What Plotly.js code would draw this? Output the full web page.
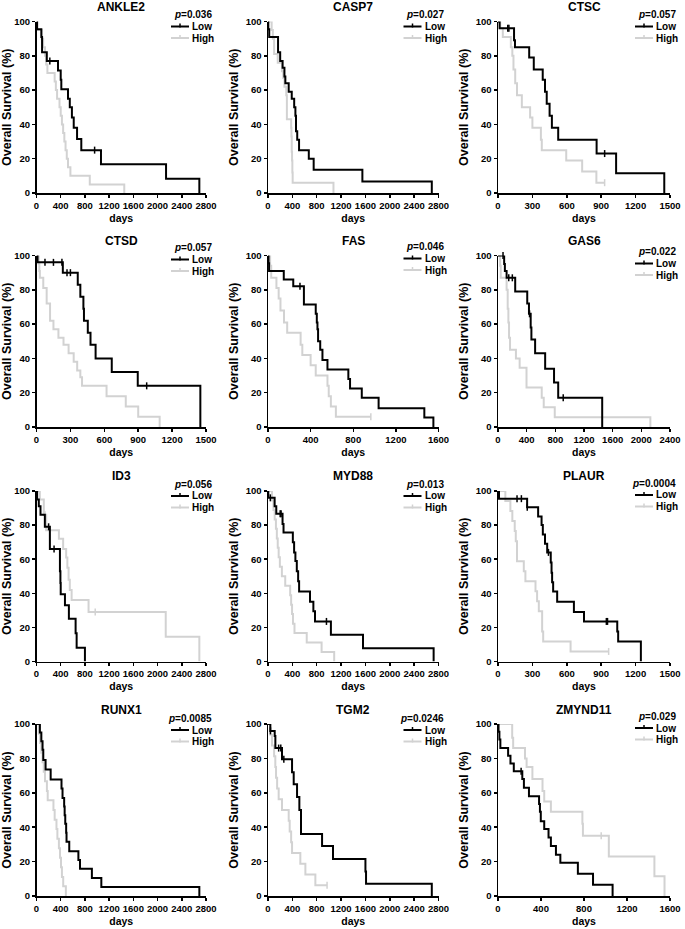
<!DOCTYPE html>
<html>
<head>
<meta charset="utf-8">
<script src="https://cdn.plot.ly/plotly-3.0.1.min.js"></script>
<style>html,body{margin:0;padding:0;background:#fff;}#chart{width:685px;height:929px;}</style>
</head>
<body>
<div id="chart"></div>
<script>
// ---------- categories / labels ----------
const genes = ['ANKLE2','CASP7','CTSC','CTSD','FAS','GAS6','ID3','MYD88','PLAUR','RUNX1','TGM2','ZMYND11'];
const pValues = ['0.036','0.027','0.057','0.057','0.046','0.022','0.056','0.013','0.0004','0.0085','0.0246','0.029'];
const groupNames = ['Low','High'];
const ticks2800 = [0,400,800,1200,1600,2000,2400,2800];
const ticks2400 = [0,400,800,1200,1600,2000,2400];
const ticks1600 = [0,400,800,1200,1600];
const ticks1500 = [0,300,600,900,1200,1500];
const survTicks = [0,20,40,60,80,100];

// ---------- Kaplan-Meier data (event day, survival % after event; censor days) ----------
const ANKLE2_lowDays = [8,80,92,170,355,400,410,520,550,585,615,670,740,1065,2140,2690];
const ANKLE2_lowSurv = [95.5,91,82,77,71.5,66,60.5,55,50,44,38,31.5,25,16.7,8.3,0];
const ANKLE2_lowCens = [220,960];
const ANKLE2_highDays = [20,85,110,140,160,180,300,320,340,380,400,420,440,460,480,500,520,560,880,1450];
const ANKLE2_highSurv = [95,90,85,80,75,70,65,60,55,50,45,40,35,30,25,20,15,10,5,0];
const ANKLE2_highCens = [];

const CASP7_lowDays = [5,20,165,200,240,270,285,340,390,430,450,460,480,510,670,750,1550,2690];
const CASP7_lowSurv = [95.5,91,82,77,73,68,64,59,55,50,45,36,31,25,20,13.5,6.7,0];
const CASP7_lowCens = [];
const CASP7_highDays = [60,80,100,160,230,250,270,300,310,380,385,390,395,400,405,1075];
const CASP7_highSurv = [95,90,81,76,71,67,62,57,43,38,33,24,19,12,6,0];
const CASP7_highCens = [];

const CTSC_lowDays = [14,140,148,272,312,390,410,425,450,470,525,860,1030,1450];
const CTSC_lowSurv = [96,89,85,79,72,66,59,52,45,38,31,23,11.5,0];
const CTSC_lowCens = [85,95,930];
const CTSC_highDays = [20,42,112,125,135,150,166,208,280,300,374,382,595,734,858];
const CTSC_highSurv = [96,91,85,80,72,64,57,50,44,38,31,25,19,12.5,6];
const CTSC_highCens = [930];

const CTSD_lowDays = [9,233,365,388,415,420,454,478,523,666,896,1450];
const CTSD_lowSurv = [96,90,83,76,69,62,55,48,40,32,24,0];
const CTSD_lowCens = [75,150,225,270,300,975];
const CTSD_highDays = [20,25,30,60,90,120,150,194,239,284,329,360,388,403,620,790,900,1090];
const CTSD_highSurv = [95,91,87,81,72,62,57,52,48,43,38,33,29,24,18,12,6,0];
const CTSD_highCens = [];

const FAS_lowDays = [5,10,148,237,337,448,458,464,470,490,511,558,754,770,880,1038,1467,1552];
const FAS_lowSurv = [95.5,91,86,82,71.5,66,61,57,50,45,39,33.5,28,22.5,17,11,5.5,0];
const FAS_lowCens = [300];
const FAS_highDays = [20,30,79,100,117,150,180,306,322,400,448,558,570,590,637];
const FAS_highSurv = [94,87,81,75,68,61,55,48,42,36,30,24,18,12,6];
const FAS_highCens = [965];

const GAS6_lowDays = [86,96,120,240,408,432,456,466,518,658,782,840,1454];
const GAS6_lowSurv = [95,91,87,79,72,66,58,51,43,34,26,17,0];
const GAS6_lowCens = [70,150,200,440,910];
const GAS6_highDays = [30,38,120,135,145,154,168,250,302,398,610,638,792,2126];
const GAS6_highSurv = [94,87,80,69,61,52,45,40,34.5,23,17,11.5,5.7,0];
const GAS6_highCens = [];

const ID3_lowDays = [10,38,66,138,221,387,395,400,470,535,646,663,800];
const ID3_lowSurv = [95,91,86,79,66,53,46,39.5,33,25,16.5,8,0];
const ID3_lowCens = [200,290];
const ID3_highDays = [55,121,160,370,440,490,510,530,550,580,860,2135,2690];
const ID3_highSurv = [95,86,77,72,66,61,55,48,42,36,29,14.5,0];
const ID3_highCens = [140,970];

const MYD88_lowDays = [5,109,136,239,255,408,429,450,473,495,511,690,745,772,1033,1560,2720];
const MYD88_lowSurv = [96,91,86.6,80.7,75.6,70,64,59,53,47,41,35,29.5,23.5,15.7,7.8,0];
const MYD88_lowCens = [38,200,215,960];
const MYD88_highDays = [65,90,110,130,145,160,175,195,228,283,364,380,395,410,435,636,880,1087];
const MYD88_highSurv = [94.4,88.9,83.3,77.8,72.2,66.7,61.1,55.6,50,44.4,38.9,33.3,27.8,22.2,16.7,11.1,5.6,0];
const MYD88_highCens = [];

const PLAUR_lowDays = [9,254,350,380,391,410,429,460,467,472,481,516,662,750,1040,1048,1246];
const PLAUR_lowSurv = [95.5,90.5,85,80,74.5,69,64,58,52,46.5,41,35,29,23.5,17.6,11.7,0];
const PLAUR_lowCens = [166,204,255,440,945,955];
const PLAUR_highDays = [64,108,125,146,155,166,225,239,327,341,356,385,394,633];
const PLAUR_highSurv = [94.1,88.2,82.4,76.5,70.6,58.8,52.9,47.1,41.2,35.3,29.4,17.6,11.8,5.9];
const PLAUR_highCens = [965];

const RUNX1_lowDays = [56,80,100,112,150,234,413,430,457,465,475,490,496,541,692,719,915,1071,2690];
const RUNX1_lowSurv = [95,90,85,79,73.5,67.8,62.5,57,52,47,42,36.8,31.5,26,21,15.8,10.5,5.3,0];
const RUNX1_lowCens = [];
const RUNX1_highDays = [38,60,80,100,120,140,172,185,280,300,330,345,370,388,405,420,441,485];
const RUNX1_highSurv = [94.4,88.9,83.3,77.8,72.2,66.7,61.1,55.6,50,44.4,38.9,33.3,27.8,22.2,16.7,11.1,5.6,0];
const RUNX1_highCens = [];

const TGM2_lowDays = [38,110,121,230,395,422,477,515,542,888,1068,1600,1610,2690];
const TGM2_lowSurv = [96,93,86,79.5,72,65,57.5,50,36,29,21.5,14.3,7.1,0];
const TGM2_lowCens = [40,175,210,260];
const TGM2_highDays = [38,66,100,120,132,150,175,230,340,356,380,395,531,614,778];
const TGM2_highSurv = [93.75,87.5,81.25,75,68.75,62.5,56.25,50,43.75,37.5,31.25,25,18.75,12.5,6.25];
const TGM2_highCens = [970];

const ZMYND11_lowDays = [5,13,22,94,116,147,226,241,288,382,390,398,430,470,492,539,580,743,884,1066];
const ZMYND11_lowSurv = [95.5,91,86,81.5,77,72.5,68,63,58,53.5,49,43.5,39,34,29,24,19.4,12.9,6.5,0];
const ZMYND11_lowCens = [215];
const ZMYND11_highDays = [132,141,251,266,320,414,430,492,785,790,1031,1455,1549];
const ZMYND11_highSurv = [92,86,80,75,68,61,55,49,42,35,23,11.5,0];
const ZMYND11_highCens = [960];

const panelData = {
  ANKLE2: [ANKLE2_lowDays,ANKLE2_lowSurv,ANKLE2_lowCens,ANKLE2_highDays,ANKLE2_highSurv,ANKLE2_highCens, ticks2800],
  CASP7: [CASP7_lowDays,CASP7_lowSurv,CASP7_lowCens,CASP7_highDays,CASP7_highSurv,CASP7_highCens, ticks2800],
  CTSC: [CTSC_lowDays,CTSC_lowSurv,CTSC_lowCens,CTSC_highDays,CTSC_highSurv,CTSC_highCens, ticks1500],
  CTSD: [CTSD_lowDays,CTSD_lowSurv,CTSD_lowCens,CTSD_highDays,CTSD_highSurv,CTSD_highCens, ticks1500],
  FAS: [FAS_lowDays,FAS_lowSurv,FAS_lowCens,FAS_highDays,FAS_highSurv,FAS_highCens, ticks1600],
  GAS6: [GAS6_lowDays,GAS6_lowSurv,GAS6_lowCens,GAS6_highDays,GAS6_highSurv,GAS6_highCens, ticks2400],
  ID3: [ID3_lowDays,ID3_lowSurv,ID3_lowCens,ID3_highDays,ID3_highSurv,ID3_highCens, ticks2800],
  MYD88: [MYD88_lowDays,MYD88_lowSurv,MYD88_lowCens,MYD88_highDays,MYD88_highSurv,MYD88_highCens, ticks2800],
  PLAUR: [PLAUR_lowDays,PLAUR_lowSurv,PLAUR_lowCens,PLAUR_highDays,PLAUR_highSurv,PLAUR_highCens, ticks1500],
  RUNX1: [RUNX1_lowDays,RUNX1_lowSurv,RUNX1_lowCens,RUNX1_highDays,RUNX1_highSurv,RUNX1_highCens, ticks2800],
  TGM2: [TGM2_lowDays,TGM2_lowSurv,TGM2_lowCens,TGM2_highDays,TGM2_highSurv,TGM2_highCens, ticks2800],
  ZMYND11: [ZMYND11_lowDays,ZMYND11_lowSurv,ZMYND11_lowCens,ZMYND11_highDays,ZMYND11_highSurv,ZMYND11_highCens, ticks1600]
};

// ---------- layout geometry (pixels) ----------
const W = 685, H = 929;
const colX = [[36.5,206],[268,438.5],[498,670]];
const rowY = [[21.5,193],[255.5,427],[491,661.5],[724,896]];
// legend vertical offset (px) relative to the plot top, per panel
const legendShift = [0,0,0, -1,-2,3, 0,0,-1, 1,1,-1];

const FONT = 'Liberation Sans, Arial, sans-serif';
const LOW_COLOR = '#000000';
const HIGH_COLOR = '#d2d2d2';

function stepXY(days, surv, cens) {
  const x = [0], y = [100];
  days.forEach((d, i) => { x.push(d); y.push(surv[i]); });
  const lastCens = cens.length ? Math.max(...cens) : -1;
  if (lastCens > x[x.length - 1]) { x.push(lastCens); y.push(y[y.length - 1]); }
  return {x, y};
}
function survAt(days, surv, t) {
  let s = 100;
  days.forEach((d, i) => { if (d <= t) s = surv[i]; });
  return s;
}
const px = v => v / W;
const py = v => 1 - v / H;

const traces = [];
const layout = {
  width: W, height: H,
  margin: {l:0, r:0, t:0, b:0},
  paper_bgcolor: '#ffffff', plot_bgcolor: '#ffffff',
  font: {family: FONT, color: '#000'},
  showlegend: false,
  annotations: [], shapes: []
};

genes.forEach((g, k) => {
  const r = Math.floor(k / 3), c = k % 3;
  const n = k + 1;
  const xa = n === 1 ? 'x' : 'x' + n, ya = n === 1 ? 'y' : 'y' + n;
  const [lD, lS, lC, hD, hS, hC, xt] = panelData[g];

  const groups = [
    {name: groupNames[1], days: hD, surv: hS, cens: hC, color: HIGH_COLOR},
    {name: groupNames[0], days: lD, surv: lS, cens: lC, color: LOW_COLOR}
  ];
  groups.forEach(gr => {
    const s = stepXY(gr.days, gr.surv, gr.cens);
    traces.push({
      type: 'scatter', mode: 'lines', x: s.x, y: s.y, xaxis: xa, yaxis: ya,
      name: gr.name, line: {shape: 'hv', color: gr.color, width: 2},
      cliponaxis: false, hoverinfo: 'skip'
    });
    if (gr.cens.length) {
      traces.push({
        type: 'scatter', mode: 'markers', x: gr.cens, y: gr.cens.map(t => survAt(gr.days, gr.surv, t)),
        xaxis: xa, yaxis: ya, name: gr.name + ' censored',
        marker: {symbol: 'line-ns-open', size: 5, color: gr.color, line: {width: 1.5, color: gr.color}},
        cliponaxis: false, hoverinfo: 'skip'
      });
    }
  });

  const tickFont = {family: FONT, size: 9.5, color: '#000', weight: 'bold'};
  layout['xaxis' + (n === 1 ? '' : n)] = {
    domain: [px(colX[c][0]), px(colX[c][1])], anchor: ya,
    range: [0, xt[xt.length - 1]], tickvals: xt, ticktext: xt.map(String),
    showline: true, linecolor: '#000', linewidth: 1.5, mirror: false,
    ticks: 'outside', ticklen: 3, tickwidth: 1.5, tickcolor: '#000',
    showgrid: false, zeroline: false, tickfont: tickFont, fixedrange: true,
    title: {text: 'days', font: {family: FONT, size: 10.5, color: '#000', weight: 'bold'}, standoff: 4}
  };
  layout['yaxis' + (n === 1 ? '' : n)] = {
    domain: [py(rowY[r][1]), py(rowY[r][0])], anchor: xa,
    range: [0, 100], tickvals: survTicks, ticktext: survTicks.map(String),
    showline: true, linecolor: '#000', linewidth: 1.5,
    ticks: 'outside', ticklen: 3, tickwidth: 1.5, tickcolor: '#000',
    showgrid: false, zeroline: false, tickfont: tickFont, fixedrange: true,
    title: {text: 'Overall Survival (%)', font: {family: FONT, size: 12.5, color: '#000', weight: 'bold'}, standoff: 4}
  };

  // panel title
  layout.annotations.push({
    text: g, xref: 'paper', yref: 'paper',
    x: px((colX[c][0] + colX[c][1]) / 2), y: py(rowY[r][0] - 14.5),
    xanchor: 'center', yanchor: 'middle', showarrow: false,
    font: {family: FONT, size: 12, color: '#000', weight: 'bold'}
  });

  // legend block (p value, Low, High)
  const R = colX[c][1], T = rowY[r][0] + legendShift[k];
  const legFont = {family: FONT, size: 10, color: '#000', weight: 'bold'};
  const yP = T - 7, yL = T + 5, yHg = T + 16.5;
  layout.annotations.push({
    text: '<i>p</i>=' + pValues[k], xref: 'paper', yref: 'paper',
    x: px(R + 7), y: py(yP), xanchor: 'right', yanchor: 'middle', showarrow: false,
    borderpad: 0, font: {family: FONT, size: 10, color: '#000', weight: 'bold'}
  });
  [[groupNames[0], yL, LOW_COLOR], [groupNames[1], yHg, HIGH_COLOR]].forEach(([nm, yy, col]) => {
    layout.annotations.push({
      text: nm, xref: 'paper', yref: 'paper', x: px(R - 15), y: py(yy),
      xanchor: 'left', yanchor: 'middle', showarrow: false, borderpad: 0, font: legFont
    });
    layout.shapes.push({
      type: 'line', xref: 'paper', yref: 'paper',
      x0: px(R - 35), x1: px(R - 17), y0: py(yy), y1: py(yy),
      line: {color: col, width: 2}
    });
    layout.shapes.push({
      type: 'line', xref: 'paper', yref: 'paper',
      x0: px(R - 26), x1: px(R - 26), y0: py(yy - 3), y1: py(yy + 1),
      line: {color: col, width: 1.5}
    });
  });
});

Plotly.newPlot('chart', traces, layout, {staticPlot: true, displayModeBar: false});
</script>
</body>
</html>
